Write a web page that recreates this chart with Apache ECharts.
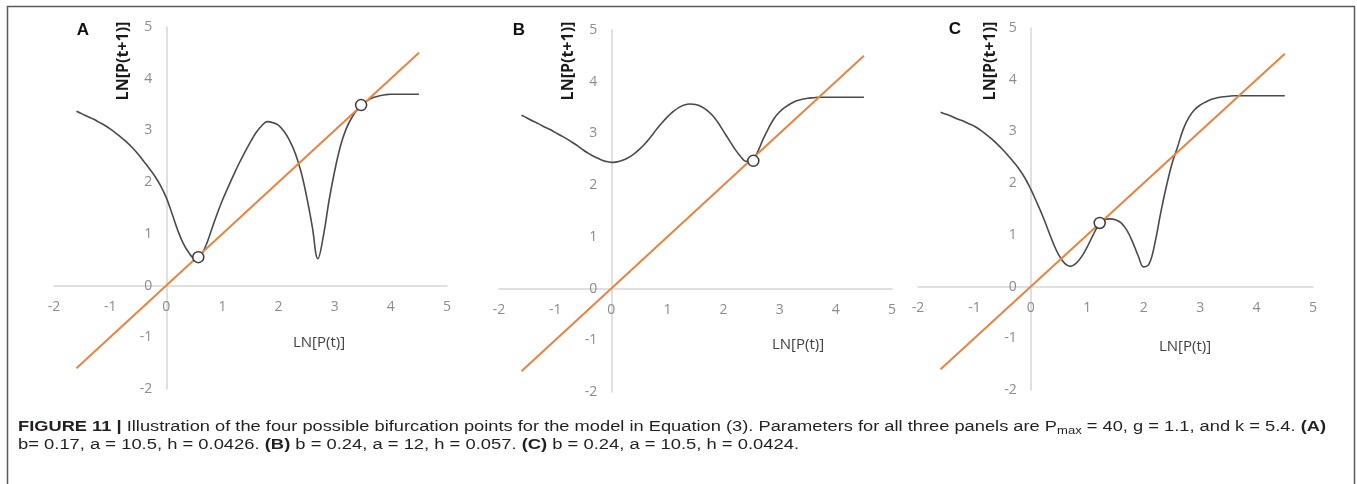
<!DOCTYPE html>
<html>
<head>
<meta charset="utf-8">
<script src="https://cdn.jsdelivr.net/npm/echarts@6/dist/echarts.min.js"></script>
<style>
  html, body { margin: 0; padding: 0; background: #fff; }
  #wrap { position: relative; width: 1357px; height: 484px; overflow: hidden; }
  #chart { position: absolute; left: 0; top: 0; width: 1357px; height: 484px; }
  .cap {
    position: absolute; left: 18px; white-space: nowrap;
    font-family: "Liberation Sans Narrow", "Liberation Sans", Arial, sans-serif;
    font-size: 14px; line-height: 18px; color: #231f20;
    transform-origin: 0 50%;
  }
  .cap b { font-weight: bold; }
  .cap sub { font-size: 10px; vertical-align: -3px; line-height: 0; }
</style>
</head>
<body>
<div id="wrap">
  <div id="chart"></div>
  <div class="cap" id="cap1" data-w="1308" style="top:417px"><b>FIGURE 11 |</b> Illustration of the four possible bifurcation points for the model in Equation (3). Parameters for all three panels are P<sub>max</sub> = 40, g = 1.1, and k = 5.4. <b>(A)</b></div>
  <div class="cap" id="cap2" data-w="781" style="top:435px">b= 0.17, a = 10.5, h = 0.0426. <b>(B)</b> b = 0.24, a = 12, h = 0.057. <b>(C)</b> b = 0.24, a = 10.5, h = 0.0424.</div>
</div>
<script>
// Axis ticks shared by all three panels
const tickMin = -2, tickMax = 5, tickStep = 1;

// ln P(t) sample positions shared by the three map curves
const lnPt = [-1.6, -1.5, -1.4, -1.3, -1.2, -1.1, -1.0, -0.9, -0.8, -0.7, -0.6, -0.5, -0.4, -0.3, -0.2, -0.1,
  0.0, 0.1, 0.2, 0.3, 0.4, 0.5, 0.6, 0.7, 0.8, 0.9, 1.0, 1.1, 1.2, 1.3, 1.4, 1.5, 1.6, 1.7, 1.8, 1.9,
  2.0, 2.1, 2.2, 2.3, 2.4, 2.5, 2.6, 2.7, 2.8, 2.9, 3.0, 3.1, 3.2, 3.3, 3.4, 3.5, 3.6, 3.7, 3.8, 3.9,
  4.0, 4.1, 4.2, 4.3, 4.4, 4.5];

// Panel A: ln P(t+1)
const yA = [3.37, 3.32, 3.27, 3.22, 3.16, 3.10, 3.03, 2.95, 2.86, 2.77, 2.66, 2.54, 2.40, 2.26, 2.11, 1.93,
  1.70, 1.40, 1.08, 0.82, 0.64, 0.53, 0.56, 0.76, 1.06, 1.37, 1.65, 1.90, 2.14, 2.37, 2.58, 2.78, 2.96, 3.09, 3.17, 3.15,
  3.10, 2.98, 2.80, 2.55, 2.20, 1.72, 1.14, 0.52, 0.97, 1.65, 2.22, 2.69, 3.02, 3.24, 3.40, 3.51, 3.59, 3.64, 3.67, 3.69,
  3.70, 3.70, 3.70, 3.70, 3.70, 3.70];
const fixedA = [[0.57, 0.55], [3.47, 3.49]];

// Panel B: ln P(t+1)
const yB = [3.35, 3.30, 3.24, 3.19, 3.13, 3.08, 3.02, 2.96, 2.90, 2.83, 2.76, 2.68, 2.61, 2.55, 2.50, 2.46,
  2.44, 2.45, 2.48, 2.53, 2.60, 2.69, 2.80, 2.93, 3.07, 3.20, 3.32, 3.42, 3.50, 3.55, 3.57, 3.56, 3.52, 3.45, 3.35, 3.21,
  3.04, 2.87, 2.70, 2.56, 2.46, 2.47, 2.63, 2.88, 3.10, 3.29, 3.42, 3.51, 3.58, 3.63, 3.66, 3.68, 3.69, 3.70, 3.70, 3.70,
  3.70, 3.70, 3.70, 3.70, 3.70, 3.70];
const fixedB = [[2.53, 2.47]];

// Panel C: ln P(t+1)
const yC = [3.37, 3.33, 3.29, 3.24, 3.20, 3.15, 3.10, 3.03, 2.95, 2.86, 2.76, 2.65, 2.53, 2.40, 2.26, 2.09,
  1.88, 1.64, 1.39, 1.11, 0.83, 0.60, 0.45, 0.39, 0.45, 0.58, 0.77, 0.99, 1.19, 1.29, 1.31, 1.29, 1.23, 1.09, 0.87, 0.60,
  0.38, 0.45, 0.85, 1.42, 1.93, 2.37, 2.70, 3.04, 3.27, 3.42, 3.51, 3.57, 3.62, 3.65, 3.67, 3.68, 3.69, 3.69, 3.69, 3.69,
  3.69, 3.69, 3.69, 3.69, 3.69, 3.69];
const fixedC = [[1.22, 1.23]];

// Identity line P(t+1) = P(t), drawn between its two end points
const diagX = [-1.6, 4.5];
const diagY = [-1.6, 4.5];

const panelLetters = ['A', 'B', 'C'];
const xTitle = 'LN[P(t)]';
const yTitle = 'LN[P(t+1)]';

const zip = (xs, ys) => xs.map((x, i) => [x, ys[i]]);

const grids = [
  { left: 54,  top: 27, width: 393, height: 362 },
  { left: 499, top: 30, width: 393, height: 362 },
  { left: 918, top: 28, width: 395, height: 362 }
];

const curves = [zip(lnPt, yA), zip(lnPt, yB), zip(lnPt, yC)];
const fixedPts = [fixedA, fixedB, fixedC];

// Both axes cross at the origin: shift each axis inward by the distance
// from the grid edge to the zero value on the other axis.
const zeroFrac = (0 - tickMin) / (tickMax - tickMin);

const labelStyle = { color: '#8c8c8c', fontSize: 14, fontFamily: 'Open Sans, sans-serif' };
const axisCommon = {
  type: 'value', min: tickMin, max: tickMax, interval: tickStep,
  splitLine: { show: false },
  axisTick: { show: false },
  axisLine: { show: true, onZero: false, lineStyle: { color: '#d6d6d6', width: 1.5 } }
};

const xAxes = grids.map((g, i) => Object.assign({}, axisCommon, {
  gridIndex: i, position: 'bottom', offset: -zeroFrac * g.height,
  axisLabel: Object.assign({ margin: 14 }, labelStyle)
}));
const yAxes = grids.map((g, i) => Object.assign({}, axisCommon, {
  gridIndex: i, position: 'left', offset: -zeroFrac * g.width,
  axisLabel: Object.assign({ margin: 14 }, labelStyle)
}));

const series = [];
grids.forEach((g, i) => {
  series.push({
    type: 'line', xAxisIndex: i, yAxisIndex: i,
    data: curves[i], smooth: 0.4,
    showSymbol: false, symbol: 'none',
    lineStyle: { color: '#4a4a4a', width: 1.6 }, z: 3
  });
  series.push({
    type: 'line', xAxisIndex: i, yAxisIndex: i,
    data: zip(diagX, diagY), symbol: 'none',
    lineStyle: { color: '#e8843f', width: 2 }, z: 4
  });
  series.push({
    type: 'scatter', xAxisIndex: i, yAxisIndex: i,
    data: fixedPts[i], symbol: 'circle', symbolSize: 11,
    itemStyle: { color: '#ffffff', borderColor: '#3c3c3c', borderWidth: 1.5, opacity: 1 }, z: 5
  });
});

// Panel letters and axis titles
const letterPos = [[83, 30], [519, 30], [955, 29]];
const yTitlePos = [[123, 61], [568, 61], [990, 61]];
const xTitlePos = [[319, 343], [798, 345], [1185, 347]];

const graphics = [{
  type: 'rect', silent: true,
  shape: { x: 7.5, y: 6.5, width: 1347, height: 482 },
  style: { fill: 'none', stroke: '#5a5a5a', lineWidth: 1.5 }
}];
panelLetters.forEach((L, i) => {
  graphics.push({
    type: 'text', x: letterPos[i][0], y: letterPos[i][1],
    style: { text: L, fill: '#111', font: 'bold 17px "Liberation Sans", Arial, sans-serif', align: 'center', verticalAlign: 'middle' }
  });
  graphics.push({
    type: 'text', x: yTitlePos[i][0], y: yTitlePos[i][1], rotation: Math.PI / 2,
    style: { text: yTitle, fill: '#1a1a1a', font: 'bold 16px "Open Sans", sans-serif', align: 'center', verticalAlign: 'middle' }
  });
  graphics.push({
    type: 'text', x: xTitlePos[i][0], y: xTitlePos[i][1],
    style: { text: xTitle, fill: '#404040', font: '15px "Open Sans", sans-serif', align: 'center', verticalAlign: 'middle' }
  });
});

const chart = echarts.init(document.getElementById('chart'), null, { renderer: 'canvas' });
chart.setOption({
  animation: false,
  backgroundColor: '#ffffff',
  grid: grids.map(g => Object.assign({ containLabel: false }, g)),
  xAxis: xAxes,
  yAxis: yAxes,
  series: series,
  graphic: graphics
});

// Fit each caption line to its set width
document.querySelectorAll('.cap').forEach(el => {
  const target = parseFloat(el.dataset.w);
  const w = el.getBoundingClientRect().width;
  if (w > 0) el.style.transform = 'scaleX(' + (target / w) + ')';
});
</script>
</body>
</html>
